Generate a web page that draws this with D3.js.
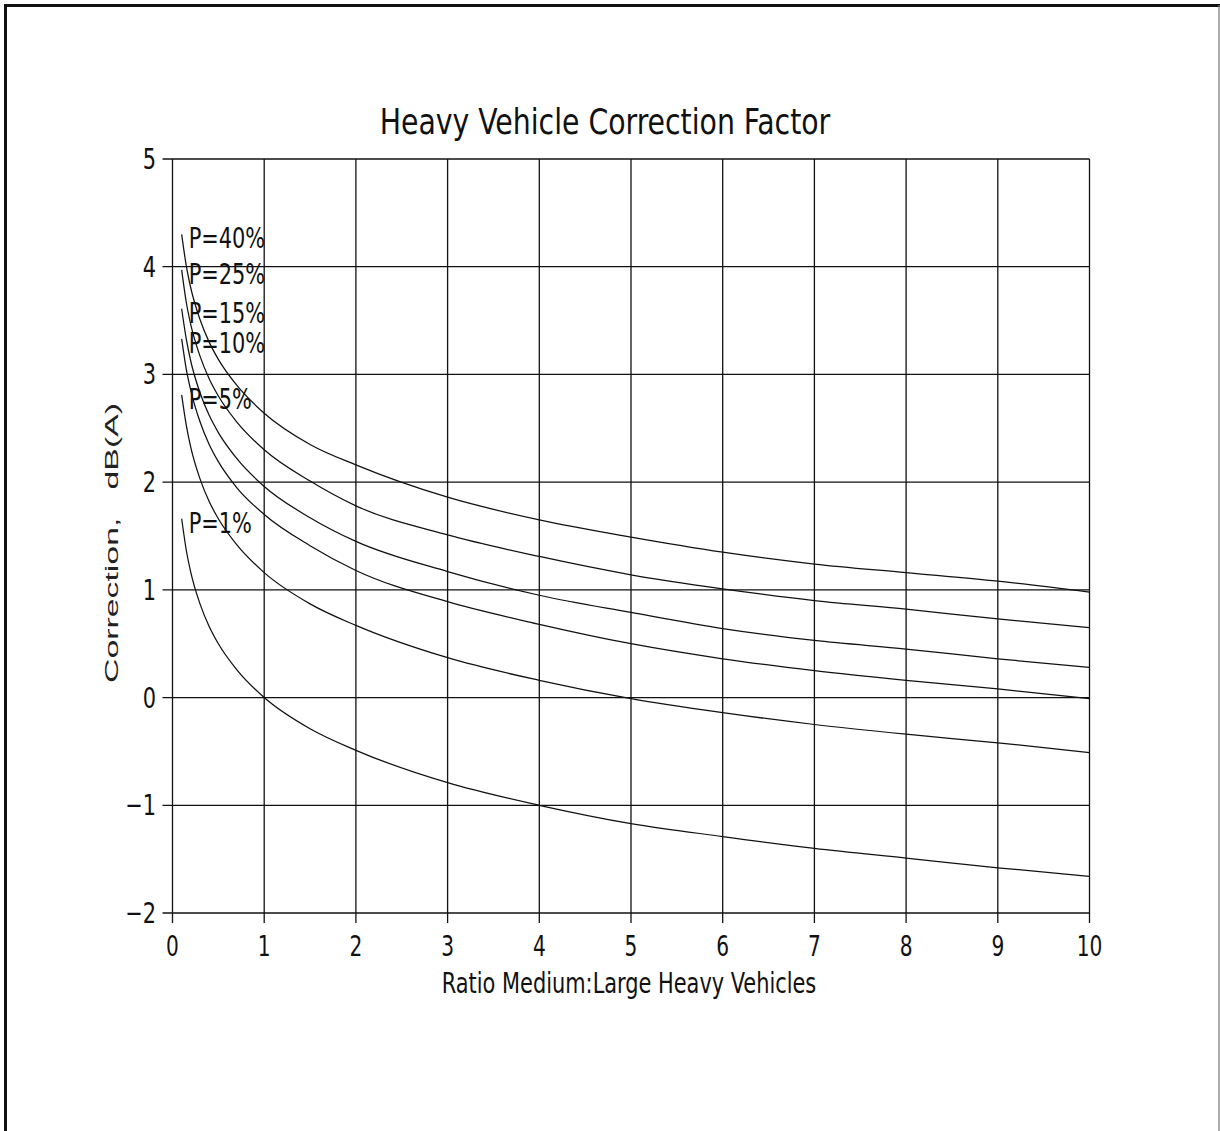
<!DOCTYPE html>
<html lang="en">
<head>
  <meta charset="UTF-8">
  <title>Heavy Vehicle Correction Factor</title>
  <script src="https://d3js.org/d3.v7.min.js"></script>
  <style>
    body {
      margin: 0;
      background: #fff;
    }

    .cad {
      font-family: "DejaVu Sans Condensed", "DejaVu Sans", sans-serif;
      font-stretch: condensed;
      fill: #111;
    }

    .grid line {
      stroke: #111;
      stroke-width: 1.3;
    }

    .curve {
      fill: none;
      stroke: #111;
      stroke-width: 1.25;
    }
  </style>
</head>
<body>
  <div id="chart"></div>

  <script>
    // ratio medium : large heavy vehicles (x values read at these points)
    const ratio = [0.1, 0.15, 0.2, 0.3, 0.4, 0.5, 0.7, 1, 1.5, 2, 3, 4, 5, 6, 7, 8, 9, 10];

    // correction in dB(A), one list per heavy vehicle percentage
    const p40 = [4.30, 4.01, 3.80, 3.51, 3.30, 3.14, 2.90, 2.64, 2.35, 2.16, 1.86, 1.65, 1.49, 1.35, 1.24, 1.16, 1.08, 0.98];
    const p25 = [3.97, 3.67, 3.46, 3.17, 2.96, 2.80, 2.56, 2.30, 2.01, 1.78, 1.51, 1.31, 1.14, 1.01, 0.90, 0.82, 0.73, 0.65];
    const p15 = [3.61, 3.33, 3.12, 2.83, 2.62, 2.46, 2.22, 1.96, 1.67, 1.45, 1.17, 0.95, 0.79, 0.64, 0.53, 0.45, 0.36, 0.28];
    const p10 = [3.33, 3.05, 2.85, 2.56, 2.35, 2.19, 1.95, 1.70, 1.41, 1.18, 0.89, 0.68, 0.50, 0.36, 0.25, 0.16, 0.08, -0.01];
    const p5 = [2.81, 2.53, 2.32, 2.03, 1.82, 1.66, 1.42, 1.16, 0.87, 0.67, 0.37, 0.16, -0.01, -0.14, -0.25, -0.34, -0.42, -0.51];
    const p1 = [1.66, 1.37, 1.16, 0.87, 0.66, 0.50, 0.26, 0.00, -0.29, -0.49, -0.79, -1.00, -1.17, -1.29, -1.40, -1.49, -1.58, -1.66];

    const seriesNames = ["P=40%", "P=25%", "P=15%", "P=10%", "P=5%", "P=1%"];
    const seriesValues = [p40, p25, p15, p10, p5, p1];

    const xTicks = [0, 1, 2, 3, 4, 5, 6, 7, 8, 9, 10];
    const yTicks = [-2, -1, 0, 1, 2, 3, 4, 5];

    const width = 1220;
    const height = 1131;

    const x = d3.scaleLinear().domain([0, 10]).range([172.5, 1089.5]);
    const y = d3.scaleLinear().domain([-2, 5]).range([913, 159]);

    const svg = d3.select("#chart").append("svg")
      .attr("width", width)
      .attr("height", height);

    // page frame: heavy left and top, faint right, bottom off the scan
    svg.append("line")
      .attr("x1", 5.5).attr("x2", 5.5).attr("y1", 4).attr("y2", height)
      .attr("stroke", "#111").attr("stroke-width", 3);
    svg.append("line")
      .attr("x1", 4).attr("x2", 1220).attr("y1", 5.5).attr("y2", 5.5)
      .attr("stroke", "#111").attr("stroke-width", 3);
    svg.append("line")
      .attr("x1", 1219).attr("x2", 1219).attr("y1", 5).attr("y2", height)
      .attr("stroke", "#777").attr("stroke-width", 1.2);

    // grid, with short ticks sticking out left and below
    const grid = svg.append("g").attr("class", "grid");
    grid.selectAll(".v")
      .data(xTicks)
      .join("line")
      .attr("x1", d => x(d)).attr("x2", d => x(d))
      .attr("y1", y(5)).attr("y2", y(-2) + 10);
    grid.selectAll(".h")
      .data(yTicks)
      .join("line")
      .attr("x1", x(0) - 10).attr("x2", x(10))
      .attr("y1", d => y(d)).attr("y2", d => y(d));

    // narrow plotter lettering: squeeze the glyphs sideways
    function squeeze(sel, px, py, sx) {
      return sel.attr("transform", (d, i) =>
        `translate(${typeof px === "function" ? px(d, i) : px},${typeof py === "function" ? py(d, i) : py}) scale(${sx},1)`);
    }

    squeeze(svg.append("g")
      .selectAll("text")
      .data(xTicks)
      .join("text")
      .attr("class", "cad")
      .attr("text-anchor", "middle")
      .attr("font-size", 28)
      .text(d => d), d => x(d), 956, 0.8);

    squeeze(svg.append("g")
      .selectAll("text")
      .data(yTicks)
      .join("text")
      .attr("class", "cad")
      .attr("text-anchor", "end")
      .attr("font-size", 29)
      .text(d => d < 0 ? "\u2212" + Math.abs(d) : d), 156, d => y(d) + 10, 0.8);

    // curves
    const line = d3.line()
      .x((d, i) => x(ratio[i]))
      .y(d => y(d))
      .curve(d3.curveMonotoneX);

    svg.append("g")
      .selectAll("path")
      .data(seriesValues)
      .join("path")
      .attr("class", "curve")
      .attr("d", d => line(d));

    squeeze(svg.append("g")
      .selectAll("text")
      .data(seriesValues)
      .join("text")
      .attr("class", "cad")
      .attr("font-size", 29)
      .text((d, i) => seriesNames[i]), x(ratio[0]) + 7, d => y(d[0]) + 14, 0.8);

    // titles
    squeeze(svg.append("text")
      .attr("class", "cad")
      .attr("text-anchor", "middle")
      .attr("font-size", 36)
      .text("Heavy Vehicle Correction Factor"), 605, 134, 0.875);

    squeeze(svg.append("text")
      .attr("class", "cad")
      .attr("text-anchor", "middle")
      .attr("font-size", 28)
      .text("Ratio Medium:Large Heavy Vehicles"), 629, 993, 0.83);

    svg.append("text")
      .attr("transform", "translate(118,543) rotate(-90)")
      .attr("text-anchor", "middle")
      .attr("font-family", "'Liberation Sans', Arial, sans-serif")
      .attr("font-size", 18)
      .attr("fill", "#222")
      .style("white-space", "pre")
      .attr("textLength", 280)
      .attr("lengthAdjust", "spacingAndGlyphs")
      .text("Correction,   dB(A)");
  </script>
</body>
</html>
